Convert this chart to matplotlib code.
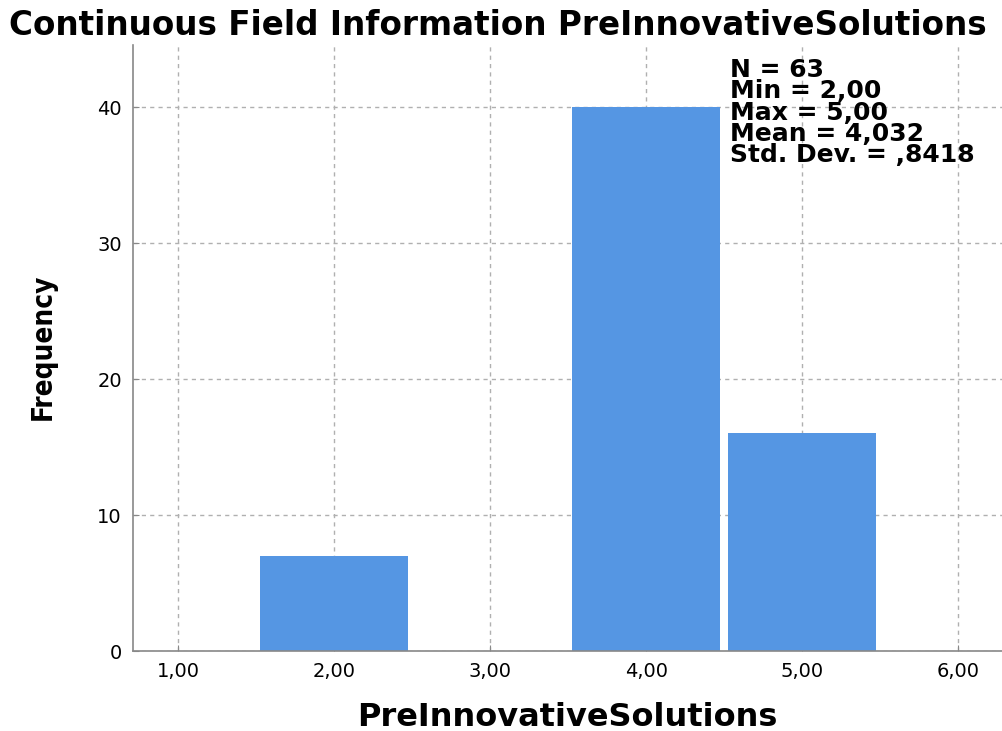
import matplotlib
matplotlib.use("Agg")
import matplotlib.pyplot as plt

# values
values = [2.0, 4.0, 5.0]
counts = [7, 40, 16]
xticks = [1, 2, 3, 4, 5, 6]
xtick_labels = ["1,00", "2,00", "3,00", "4,00", "5,00", "6,00"]
yticks = [0, 10, 20, 30, 40]
stats_lines = ["N = 63", "Min = 2,00", "Max = 5,00", "Mean = 4,032", "Std. Dev. = ,8418"]

BAR_COLOR = "#5596E3"
GRID_COLOR = "#b0b0b0"

fig = plt.figure(figsize=(10.02, 7.31), dpi=100)
ax = fig.add_axes([0.1327, 0.1094, 0.8673, 0.829])

ax.bar(values, counts, width=0.95, color=BAR_COLOR, zorder=2)

ax.set_xlim(0.712, 6.28)
ax.set_ylim(0, 44.56)
ax.set_xticks(xticks)
ax.set_xticklabels(xtick_labels)
ax.set_yticks(yticks)
ax.tick_params(axis="both", labelsize=14, direction="in", length=4, color="#888888", pad=8)

ax.grid(True, color=GRID_COLOR, linestyle=(0, (3, 3)), linewidth=1, zorder=1)
ax.set_axisbelow(True)

for s in ["top", "right"]:
    ax.spines[s].set_visible(False)
for s in ["left", "bottom"]:
    ax.spines[s].set_color("#888888")
    ax.spines[s].set_linewidth(1.2)

fig.text(0.497, 0.965, "Continuous Field Information PreInnovativeSolutions",
         ha="center", va="center", fontsize=23.5, fontweight="bold")
fig.text(43 / 1002, 1 - 347 / 731, "Frequency", rotation=90, ha="center", va="center",
         fontsize=20, fontweight="bold", fontstretch="condensed")
fig.text(567 / 1002, 1 - 717 / 731, "PreInnovativeSolutions", ha="center", va="center",
         fontsize=23, fontweight="bold")

ax.text(4.54, 43.6, "\n".join(stats_lines), ha="left", va="top",
        fontsize=18, fontweight="bold", linespacing=0.86)

fig.savefig("out.png", dpi=100)
